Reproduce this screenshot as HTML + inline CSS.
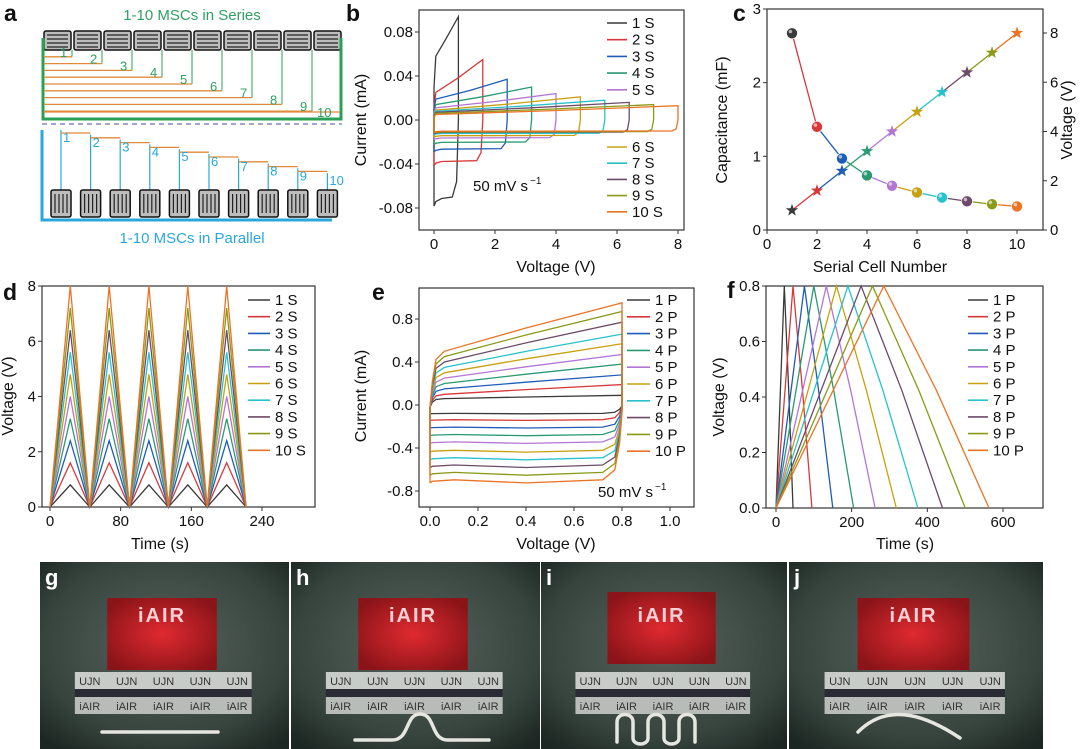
<!DOCTYPE html>
<html><head><meta charset="utf-8">
<style>
html,body{margin:0;padding:0;background:#fff;}
svg{display:block;font-family:"Liberation Sans",Arial,sans-serif;}
</style></head>
<body>
<svg id="fig" width="1080" height="749" viewBox="0 0 1080 749" xmlns="http://www.w3.org/2000/svg">
<defs>
<radialGradient id="photoBg" cx="0.5" cy="0.45" r="0.7"><stop offset="0" stop-color="#58625c"/><stop offset="0.7" stop-color="#37443e"/><stop offset="1" stop-color="#1c2622"/></radialGradient>
<radialGradient id="ledGlow" cx="0.5" cy="0.5" r="0.6"><stop offset="0" stop-color="#e02a30"/><stop offset="1" stop-color="#8a1418"/></radialGradient>
</defs>
<g id="panelA"></g>
<g id="panelB"></g>
<g id="panelC"></g>
<g id="panelD"></g>
<g id="panelE"></g>
<g id="panelF"></g>
<g id="photos"></g>
</svg>
<script>
const NS="http://www.w3.org/2000/svg";
const colors=["#3a3a3a","#d8383a","#1f5cb8","#2a9a70","#b476d6","#c8a010","#28c2cc","#6e4a6a","#8a9a18","#ea7424"];
const seriesNums=[1,2,3,4,5,6,7,8,9,10];
// panel b data
const bVmax=[0.8,1.6,2.4,3.2,4.0,4.8,5.6,6.4,7.2,8.0];
const bPeak=[0.094,0.055,0.037,0.030,0.024,0.021,0.018,0.016,0.014,0.013];
const bUpStart=[0.058,0.025,0.019,0.014,0.011,0.009,0.008,0.007,0.006,0.005];
const bLow=[-0.070,-0.037,-0.026,-0.020,-0.016,-0.014,-0.012,-0.011,-0.0105,-0.010];
const bXTicks=[0,2,4,6,8];
const bYTicks=[-0.08,-0.04,0.00,0.04,0.08];
const bYLabels=["-0.08","-0.04","0.00","0.04","0.08"];
// panel c data
const cCells=[1,2,3,4,5,6,7,8,9,10];
const cCap=[2.67,1.40,0.97,0.74,0.60,0.51,0.44,0.39,0.35,0.32];
const cVolt=[0.8,1.6,2.4,3.2,4.0,4.8,5.6,6.4,7.2,8.0];
const cXTicks=[0,2,4,6,8,10];
const cYTicks=[0,1,2,3];
const cY2Ticks=[0,2,4,6,8];
// panel d data
const dPeakT=[23,67,112,156,200];
const dTroughT=[0,45,90,134,178,222];
const dXTicks=[0,80,160,240];
const dYTicks=[0,2,4,6,8];
// panel e data
const eUpStart=[0.06,0.10,0.15,0.20,0.25,0.30,0.35,0.40,0.45,0.50];
const eUpEnd=[0.09,0.19,0.28,0.38,0.47,0.57,0.66,0.77,0.87,0.95];
const eLow=[-0.08,-0.14,-0.21,-0.28,-0.35,-0.43,-0.50,-0.57,-0.64,-0.71];
const eXTicks=[0,0.2,0.4,0.6,0.8,1.0];
const eXLabels=["0.0","0.2","0.4","0.6","0.8","1.0"];
const eYTicks=[-0.8,-0.4,0,0.4,0.8];
const eYLabels=["-0.8","-0.4","0.0","0.4","0.8"];
// panel f data
const fPeakT=[22,45,75,100,133,160,190,225,255,285];
const fEndT=[45,95,150,205,262,318,375,440,500,563];
const fVmax=0.8;
const fXTicks=[0,200,400,600];
const fYTicks=[0,0.2,0.4,0.6,0.8];
const fYLabels=["0.0","0.2","0.4","0.6","0.8"];

function lin(d0,d1,r0,r1){return v=>r0+(v-d0)*(r1-r0)/(d1-d0);}
function el(parent,tag,attrs,text){const e=document.createElementNS(NS,tag);for(const k in attrs)e.setAttribute(k,attrs[k]);if(text!==undefined)e.textContent=text;parent.appendChild(e);return e;}
function ptsStr(pts,sx,sy){return pts.map(p=>sx(p[0]).toFixed(1)+","+sy(p[1]).toFixed(1)).join(" ");}

function frame(g,x0,y0,x1,y1){
  const r=el(g,"rect",{x:x0,y:y0,width:x1-x0,height:y1-y0,fill:"none",stroke:"#333","stroke-width":1.2});
  
  
}
function xTicks(g,vals,labels,sx,yb,size){
  vals.forEach((v,i)=>{
    const t=el(g,"line",{x1:sx(v),x2:sx(v),y1:yb,y2:yb+4,stroke:"#333","stroke-width":1});
    
    
    const l=el(g,"text",{x:sx(v),y:yb+19,"font-size":size||15,"text-anchor":"middle",fill:"#111"},labels[i]);
    
    
  });
}
function yTicks(g,vals,labels,sy,xl,size,right){
  vals.forEach((v,i)=>{
    const t=el(g,"line",{x1:xl,x2:right?xl+4:xl-4,y1:sy(v),y2:sy(v),stroke:"#333","stroke-width":1});
    
    
    const l=el(g,"text",{x:right?xl+7:xl-6,y:sy(v)+5,"font-size":size||15,"text-anchor":right?"start":"end",fill:"#111"},labels[i]);
    
    
  });
}
function title(g,x,y,txt,rot,name){
  const t=el(g,"text",{x:x,y:y,"font-size":16,"text-anchor":"middle",fill:"#111",transform:rot?`rotate(-90 ${x} ${y})`:""},txt);
  
  
}
function letter(g,x,y,ch){
  const t=el(g,"text",{x:x,y:y,"font-size":23,"font-weight":"bold",fill:"#111"},ch);
  
  
}
function legendEntry(g,x1,x2,y,color,label){
  const ln=el(g,"line",{x1:x1,x2:x2,y1:y,y2:y,stroke:color,"stroke-width":1.6});
  
  
  const t=el(g,"text",{x:x2+5,y:y+5,"font-size":15,fill:"#111"},label);
  
  
}

/* ---------- panel a ---------- */
(function(){
  const g=document.getElementById("panelA");
  letter(g,4,21,"a");
  const t1=el(g,"text",{x:192,y:20,"font-size":15,"text-anchor":"middle",fill:"#2fa063"},"1-10 MSCs in Series");
  
  
  for(let i=0;i<10;i++){
    const x=44+30*i;
    const b=el(g,"rect",{x:x,y:31,width:27,height:19,fill:"#bdbdbd",stroke:"#111","stroke-width":1.5,rx:2});
    
    
    for(let k=0;k<4;k++){el(g,"line",{x1:x+3,x2:x+24,y1:35+k*4,y2:35+k*4,stroke:"#222","stroke-width":1.2});}
  }
  const br=el(g,"path",{d:"M43,38 V119 H341 V38",fill:"none",stroke:"#2aa055","stroke-width":3});
  
  
  for(let k=1;k<=10;k++){
    const x=k<10?42+30*k:340, y=k<10?50+6.8*k:112;
    if(k<10){el(g,"line",{x1:x,x2:x,y1:50,y2:y,stroke:"#2aa055","stroke-width":1});}
    const o=el(g,"line",{x1:44,x2:x,y1:y,y2:y,stroke:"#e08a3a","stroke-width":1.3});
    
    
    const lb=el(g,"text",{x:x-(k<10?12:23),y:y+(k<10?0:5),"font-size":13,fill:"#2fa063"},String(k));
    
    
  }
  const d=el(g,"line",{x1:42,x2:342,y1:124,y2:124,stroke:"#4a4aa0","stroke-width":1,"stroke-dasharray":"5,4"});
  
  
  const pb=el(g,"path",{d:"M42,130 V220 H332",fill:"none",stroke:"#2aa8dc","stroke-width":3});
  
  
  for(let k=0;k<10;k++){
    const x=61+29.6*k, yt=130+4.8*k;
    el(g,"line",{x1:x,x2:x,y1:yt,y2:190,stroke:"#2aa8dc","stroke-width":1.2});
    if(k<9){const o=el(g,"line",{x1:x,x2:x+29.6,y1:yt+3,y2:yt+3,stroke:"#e08a3a","stroke-width":1.3});
      
      }
    const lb=el(g,"text",{x:x+2,y:yt+12,"font-size":13,fill:"#2aa8dc"},String(k+1));
    
    
    const c=el(g,"rect",{x:x-10,y:190,width:20,height:27,fill:"#bdbdbd",stroke:"#111","stroke-width":1.5,rx:2});
    
    
    for(let m=0;m<4;m++){el(g,"line",{x1:x-6+m*4,x2:x-6+m*4,y1:194,y2:213,stroke:"#222","stroke-width":1.2});}
  }
  const t2=el(g,"text",{x:192,y:243,"font-size":15,"text-anchor":"middle",fill:"#2aa8dc"},"1-10 MSCs in Parallel");
  
  
})();

/* ---------- panel b ---------- */
(function(){
  const g=document.getElementById("panelB");
  const sx=lin(0,8,434,678), sy=lin(0,0.08,120,32);
  letter(g,346,21,"b");
  frame(g,419,10,684,230);
  seriesNums.forEach((n,i)=>{
    const Vm=bVmax[i], lo=bLow[i];
    const pts=[[0,lo*1.12],[0,bUpStart[i]*0.5],[0.06,bUpStart[i]],[Vm*0.5,bUpStart[i]+(bPeak[i]-bUpStart[i])*0.45],[Vm,bPeak[i]],[Vm,0],[Vm-0.06,lo*0.8],[Vm-0.2,lo],[0.25,lo*1.02],[0.06,lo*1.06],[0,lo*1.12]];
    const p=el(g,"polyline",{points:ptsStr(pts,sx,sy),fill:"none",stroke:colors[i],"stroke-width":1.3});
    
    
  });
  xTicks(g,bXTicks,bXTicks.map(String),sx,230);
  yTicks(g,bYTicks,bYLabels,sy,419);
  title(g,556,272,"Voltage (V)",false,"x-axis-title");
  title(g,366,120,"Current (mA)",true,"y-axis-title");
  seriesNums.forEach((n,i)=>{const y=i<5?23+16.7*i:147+16.2*(i-5);legendEntry(g,607,627,y,colors[i],n+" S");});
  const a=el(g,"text",{x:473,y:191,"font-size":15,fill:"#111"},"50 mV s");
  
  
  el(g,"text",{x:530,y:184,"font-size":10,fill:"#111"},"−1");
})();

/* ---------- panel c ---------- */
(function(){
  const g=document.getElementById("panelC");
  const sx=lin(0,10,767,1017), sy=lin(0,3,230,9), sy2=lin(0,8,230,33);
  letter(g,733,21,"c");
  frame(g,767,9,1043,230);
  for(let i=0;i<cCells.length-1;i++){
    const l1=el(g,"line",{x1:sx(cCells[i]),y1:sy(cCap[i]),x2:sx(cCells[i+1]),y2:sy(cCap[i+1]),stroke:colors[i+1],"stroke-width":1.3});
    
    
    const l2=el(g,"line",{x1:sx(cCells[i]),y1:sy2(cVolt[i]),x2:sx(cCells[i+1]),y2:sy2(cVolt[i+1]),stroke:colors[i+1],"stroke-width":1.3});
    
    
  }
  cCells.forEach((n,i)=>{
    const c=el(g,"circle",{cx:sx(n),cy:sy(cCap[i]),r:5.5,fill:colors[i],stroke:"#fff","stroke-width":0.6});
    
    
    el(g,"circle",{cx:sx(n)-1.6,cy:sy(cCap[i])-1.8,r:1.8,fill:"#fff",opacity:0.6});
    const cx=sx(n), cy=sy2(cVolt[i]); let s="";
    for(let k=0;k<10;k++){const r=k%2?2.6:6.5, a=-Math.PI/2+k*Math.PI/5; s+=(cx+r*Math.cos(a)).toFixed(1)+","+(cy+r*Math.sin(a)).toFixed(1)+" ";}
    const st=el(g,"polygon",{points:s,fill:colors[i]});
    
    
  });
  xTicks(g,cXTicks,cXTicks.map(String),sx,230);
  yTicks(g,cYTicks,cYTicks.map(String),sy,767);
  yTicks(g,cY2Ticks,cY2Ticks.map(String),sy2,1043,15,true);
  title(g,880,272,"Serial Cell Number",false,"x-axis-title");
  title(g,727,120,"Capacitance (mF)",true,"y-axis-title-left");
  title(g,1072,120,"Voltage (V)",true,"y-axis-title-right");
})();

/* ---------- panel d ---------- */
(function(){
  const g=document.getElementById("panelD");
  const sx=lin(0,240,50,262), sy=lin(0,8,507,286);
  letter(g,3,300,"d");
  frame(g,42,286,315,507);
  seriesNums.forEach((n,i)=>{
    const pts=[];
    dTroughT.forEach((t,k)=>{pts.push([t,0]); if(k<dPeakT.length)pts.push([dPeakT[k],bVmax[i]]);});
    const p=el(g,"polyline",{points:ptsStr(pts,sx,sy),fill:"none",stroke:colors[i],"stroke-width":1.3});
    
    
  });
  xTicks(g,dXTicks,dXTicks.map(String),sx,507);
  yTicks(g,dYTicks,dYTicks.map(String),sy,42);
  title(g,160,549,"Time (s)",false,"x-axis-title");
  title(g,13,396,"Voltage (V)",true,"y-axis-title");
  seriesNums.forEach((n,i)=>legendEntry(g,248,270,300+16.7*i,colors[i],n+" S"));
})();

/* ---------- panel e ---------- */
(function(){
  const g=document.getElementById("panelE");
  const sx=lin(0,1,430,670), sy=lin(0,0.8,405,319);
  letter(g,372,300,"e");
  frame(g,419,288,694,507);
  seriesNums.forEach((n,i)=>{
    const u0=eUpStart[i],u1=eUpEnd[i],lo=eLow[i];
    const pts=[[0,lo*1.02],[0,-0.02],[0.01,u0*0.45],[0.025,u0*0.85],[0.06,u0],[0.4,u0+(u1-u0)*0.48],[0.8,u1],[0.8,lo*0.1],[0.79,lo*0.5],[0.77,lo*0.85],[0.72,lo*0.98],[0.4,lo*1.02],[0.1,lo*0.98],[0.01,lo],[0,lo*1.02]];
    const p=el(g,"polyline",{points:ptsStr(pts,sx,sy),fill:"none",stroke:colors[i],"stroke-width":1.3});
    
    
  });
  xTicks(g,eXTicks,eXLabels,sx,507);
  yTicks(g,eYTicks,eYLabels,sy,419);
  title(g,556,549,"Voltage (V)",false,"x-axis-title");
  title(g,366,396,"Current (mA)",true,"y-axis-title");
  seriesNums.forEach((n,i)=>legendEntry(g,627,650,300+16.8*i,colors[i],n+" P"));
  const a=el(g,"text",{x:598,y:497,"font-size":15,fill:"#111"},"50 mV s");
  
  
  el(g,"text",{x:655,y:490,"font-size":10,fill:"#111"},"−1");
})();

/* ---------- panel f ---------- */
(function(){
  const g=document.getElementById("panelF");
  const sx=lin(0,600,776,1003), sy=lin(0,0.8,508,286);
  letter(g,727,298,"f");
  frame(g,766,286,1043,508);
  seriesNums.forEach((n,i)=>{
    const pk=fPeakT[i], en=fEndT[i];
    const pts=[[0,0],[pk,fVmax],[pk+(en-pk)*0.5,fVmax*0.53],[en,0]];
    const p=el(g,"polyline",{points:ptsStr(pts,sx,sy),fill:"none",stroke:colors[i],"stroke-width":1.3});
    
    
  });
  xTicks(g,fXTicks,fXTicks.map(String),sx,508);
  yTicks(g,fYTicks,fYLabels,sy,766);
  title(g,905,549,"Time (s)",false,"x-axis-title");
  title(g,724,397,"Voltage (V)",true,"y-axis-title");
  seriesNums.forEach((n,i)=>legendEntry(g,968,988,300+16.7*i,colors[i],n+" P"));
})();

/* ---------- photos ---------- */
(function(){
  const g=document.getElementById("photos");
  const panes=[[40,249,"g"],[291,249,"h"],[541,246,"i"],[789,254,"j"]];
  panes.forEach((p,k)=>{
    const x=p[0],w=p[1];
    const bg=el(g,"rect",{x:x,y:562,width:w,height:187,fill:"url(#photoBg)"});
    
    
    const led=el(g,"rect",{x:x+w*0.27,y:598+(k==2?-6:0),width:w*0.44,height:72,fill:"url(#ledGlow)"});
    
    
    const lt=el(g,"text",{x:x+w*0.49,y:622,"font-size":20,"font-weight":"bold","text-anchor":"middle",fill:"#ffd0d4","letter-spacing":"2"},"iAIR");
    
    
    const s1=el(g,"rect",{x:x+w*0.14,y:672,width:w*0.71,height:17,fill:"#c8ccc8"});
    
    
    el(g,"rect",{x:x+w*0.14,y:689,width:w*0.71,height:8,fill:"#2a2a34"});
    const s2=el(g,"rect",{x:x+w*0.14,y:697,width:w*0.71,height:17,fill:"#b8bcb8"});
    
    
    for(let m=0;m<5;m++){
      const tx=x+w*(0.2+0.148*m);
      el(g,"text",{x:tx,y:685,"font-size":11,"text-anchor":"middle",fill:"#333"},"UJN");
      el(g,"text",{x:tx,y:710,"font-size":11,"text-anchor":"middle",fill:"#333"},"iAIR");
    }
    const lb=el(g,"text",{x:x+5,y:585,"font-size":22,"font-weight":"bold",fill:"#fff"},p[2]);
    
    
  });
  const shapes=["M102,732 H218","M355,740 H392 C410,740 405,714 420,714 C436,714 430,740 448,740 H489",
    "M617,742 V722 C617,712 633,712 633,722 V738 C633,746 648,746 648,738 V722 C648,712 664,712 664,722 V738 C664,746 679,746 679,738 V722 C679,712 695,712 695,722 V742",
    "M858,732 C890,700 930,718 960,738"];
  shapes.forEach(d=>{
    const s=el(g,"path",{d:d,fill:"none",stroke:"#e6e6e0","stroke-width":3.5,"stroke-linecap":"round"});
    
    
  });
})();
</script>
</body></html>
